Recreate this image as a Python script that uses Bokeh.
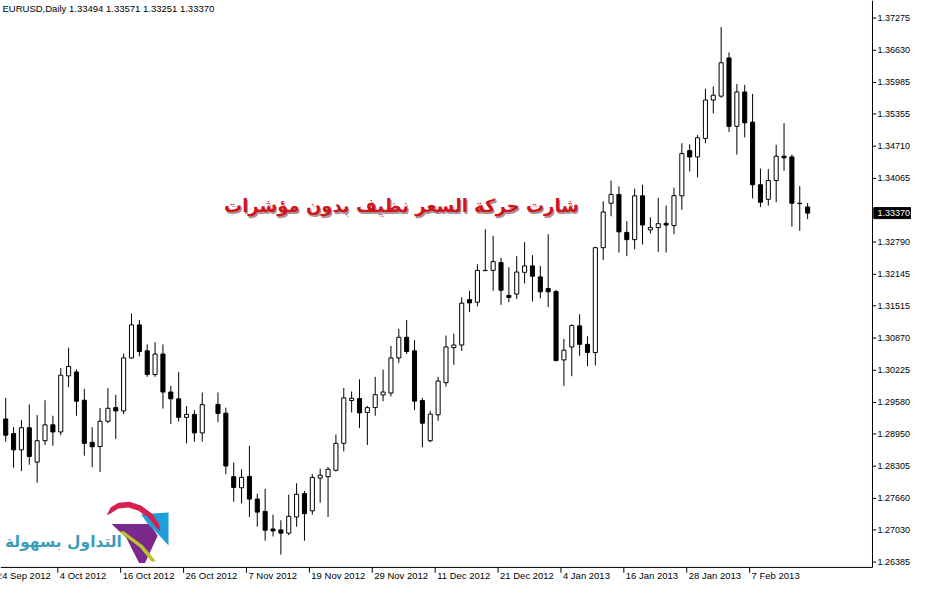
import numpy as np
from bokeh.plotting import figure
from bokeh.models import ColumnDataSource, Range1d, Label, PolyAnnotation
from bokeh.embed import file_html
from bokeh.resources import INLINE
from bokeh.core.properties import value

# ---------------- data ----------------
symbol_title = "EURUSD,Daily  1.33494 1.33571 1.33251 1.33370"
headline = "شارت حركة السعر نظيف بدون مؤشرات"
brand = "التداول بسهولة"

nan = float("nan")
opens = [1.29249, 1.28957, 1.28632, 1.29074, 1.28386, 1.28815, 1.29132, 1.28990, 1.30112, 1.30190,
         1.29625, 1.28782, 1.28698, 1.29204, 1.29477, 1.29411, 1.30471, 1.31133, 1.30613, 1.30139,
         1.30549, 1.29789, 1.29652, 1.29282, 1.29341, 1.28971, nan, 1.29541, 1.29366, 1.28094,
         1.27872, 1.28100, 1.27646, 1.27399, 1.27048, 1.27029, 1.26964, 1.27288, 1.27755, 1.27412,
         1.28067, 1.28094, 1.28223, 1.28762, 1.29619, 1.29658, 1.29380, 1.29477, 1.29730, 1.29769,
         1.30471, 1.30885, 1.30613, 1.29619, 1.28815, 1.29333, 1.29976, 1.30677, 1.30730, 1.31639,
         1.31587, 1.32220, 1.32224, 1.32380, 1.31723, 1.31749, 1.32185, 1.32313, 1.32093, 1.31860,
         1.31801, 1.30432, 1.30691, 1.31113, 1.30743, 1.30580, 1.32678, 1.33568, 1.33743, 1.32984,
         1.32839, 1.33716, 1.33034, 1.33081, 1.33165, 1.33120, 1.33716, 1.34620, 1.34495, 1.34865,
         1.35633, 1.35711, 1.36476, 1.35107, 1.35795, 1.35191, 1.33938, 1.33646, 1.34022, 1.34509,
         1.34495, 1.33568, 1.33494]
highs = [1.29672, 1.29088, 1.29230, 1.29541, 1.29327, 1.29625, 1.29314, 1.30268, 1.30677, 1.30243,
         1.29853, 1.29084, 1.29469, 1.29867, 1.29736, 1.30560, 1.31359, 1.31230, 1.30743, 1.30788,
         1.30743, 1.29912, 1.30190, 1.29508, 1.29425, 1.29781, nan, 1.29781, 1.29477, 1.28378,
         1.28242, 1.28710, 1.27755, 1.27853, 1.27334, 1.27223, 1.27736, 1.27964, 1.27808, 1.28145,
         1.28256, 1.28289, 1.28938, 1.29867, 1.29800, 1.30042, 1.29508, 1.30093, 1.30237, 1.30710,
         1.31055, 1.31230, 1.30827, 1.29672, 1.29411, 1.30093, 1.30919, 1.30958, 1.31684, 1.31815,
         1.32347, 1.33048, 1.32917, 1.32477, 1.32288, 1.32508, 1.32789, 1.32528, 1.32313, 1.32950,
         1.31834, 1.30852, 1.31145, 1.31347, 1.30905, 1.32697, 1.33607, 1.34022, 1.33905, 1.33210,
         1.33860, 1.33938, 1.33287, 1.33677, 1.33521, 1.33880, 1.34768, 1.34748, 1.34932, 1.35859,
         1.35906, 1.37094, 1.36587, 1.35956, 1.35937, 1.35756, 1.34261, 1.34250, 1.34737, 1.35171,
         1.34542, 1.33911, 1.33571]
lows = [1.28795, 1.28275, 1.28207, 1.28334, 1.27973, 1.28729, 1.28714, 1.28924, 1.29886, 1.29314,
        1.28515, 1.28285, 1.28188, 1.29165, 1.28850, 1.29347, 1.30457, 1.30502, 1.30093, 1.30093,
        1.29458, 1.29152, 1.29197, 1.28762, 1.28795, 1.28795, nan, 1.29185, 1.28145, 1.27593,
        1.27560, 1.27288, 1.27093, 1.26814, 1.26898, 1.26536, 1.26925, 1.27093, 1.26814, 1.27334,
        1.27574, 1.27288, 1.28197, 1.28601, 1.29380, 1.29068, 1.28729, 1.29314, 1.29606, 1.29703,
        1.30373, 1.30549, 1.29430, 1.28684, 1.28782, 1.29216, 1.29898, 1.30334, 1.30613, 1.31392,
        1.31503, 1.32204, 1.31815, 1.31534, 1.31587, 1.31651, 1.31963, 1.31600, 1.31665, 1.31489,
        1.30404, 1.29912, 1.30106, 1.30515, 1.30307, 1.30321, 1.32430, 1.33307, 1.32580, 1.32508,
        1.32645, 1.32742, 1.32964, 1.32594, 1.32580, 1.32950, 1.33437, 1.34203, 1.34086, 1.34768,
        1.35366, 1.35678, 1.34996, 1.34542, 1.34885, 1.33665, 1.33490, 1.33521, 1.33587, 1.34217,
        1.33100, 1.33015, 1.33251]
closes = [1.28924, 1.28632, 1.29074, 1.28499, 1.28815, 1.29132, 1.28990, 1.30126, 1.30301, 1.29606,
          1.28762, 1.28694, 1.29204, 1.29464, 1.29411, 1.30471, 1.31133, 1.30599, 1.30139, 1.30549,
          1.29789, 1.29652, 1.29282, 1.29341, 1.28971, 1.29536, nan, 1.29360, 1.28308, 1.27880,
          1.28080, 1.27646, 1.27385, 1.27023, 1.27009, 1.26964, 1.27301, 1.27743, 1.27354, 1.28080,
          1.28125, 1.28242, 1.28762, 1.29672, 1.29664, 1.29372, 1.29477, 1.29736, 1.29789, 1.30471,
          1.30885, 1.30599, 1.29606, 1.29165, 1.29347, 1.30009, 1.30691, 1.30730, 1.31567, 1.31573,
          1.32224, 1.32224, 1.32399, 1.31826, 1.31684, 1.32191, 1.32313, 1.32107, 1.31795, 1.31795,
          1.30418, 1.30626, 1.31119, 1.30743, 1.30580, 1.32678, 1.33393, 1.33743, 1.32995, 1.32839,
          1.33716, 1.33132, 1.33081, 1.33159, 1.33132, 1.33720, 1.34561, 1.34495, 1.34879, 1.35633,
          1.35730, 1.36379, 1.35107, 1.35795, 1.35177, 1.33938, 1.33587, 1.34022, 1.34509, 1.34476,
          1.33568, 1.33560, 1.33370]

date_labels = ["24 Sep 2012", "4 Oct 2012", "16 Oct 2012", "26 Oct 2012", "7 Nov 2012",
               "19 Nov 2012", "29 Nov 2012", "11 Dec 2012", "21 Dec 2012", "4 Jan 2013",
               "16 Jan 2013", "28 Jan 2013", "7 Feb 2013"]
date_bars = [-1, 7, 15, 23, 31, 39, 47, 55, 63, 71, 79, 87, 95]

price_ticks = [1.37275, 1.36630, 1.35985, 1.35355, 1.34710, 1.34065, 1.32790, 1.32145,
               1.31515, 1.30870, 1.30225, 1.29580, 1.28950, 1.28305, 1.27660, 1.27030, 1.26385]
last_price = 1.33370

# ---------------- layout helpers (reference-pixel -> data) ----------------
FONT = "Liberation Sans"
W, H = 911, 582
REF_W, REF_H = 927, 598
BAR_PX, BAR0_PX = 8.0, 5.3          # bar spacing / first bar centre in reference px
PRICE_TOP, PRICE_PER_PX = 1.376256, 0.0001948


def bx(rx):
    return (rx - BAR0_PX) / BAR_PX


def py(ry):
    return PRICE_TOP - PRICE_PER_PX * ry


X0, X1 = bx(0), bx(REF_W)
Y0, Y1 = py(REF_H), py(0)
AXIS_X = bx(887.3)
AXIS_Y = py(582.5)
TICK_SHIFT = -0.375

o = np.array(opens, dtype=float)
h = np.array(highs, dtype=float)
l = np.array(lows, dtype=float)
c = np.array(closes, dtype=float)
x = np.arange(len(o))
bull = c >= o
src = ColumnDataSource(dict(
    x=x, high=h, low=l,
    top=np.maximum(o, c), bottom=np.minimum(o, c),
    fill=np.where(bull, "white", "black").tolist(),
))

p = figure(width=W, height=H, output_backend="svg", toolbar_location=None,
           x_range=Range1d(X0, X1), y_range=Range1d(Y0, Y1),
           x_axis_location=None, y_axis_location=None,
           min_border_left=0, min_border_top=0, min_border_right=0, min_border_bottom=0)
p.outline_line_color = None
p.background_fill_color = "white"
p.border_fill_color = "white"
for g in p.grid:
    g.visible = False

# candles
p.segment(x0="x", y0="low", x1="x", y1="high", source=src, line_color="black", line_width=1)
p.vbar(x="x", width=0.52, top="top", bottom="bottom", source=src,
       fill_color="fill", line_color="black", line_width=1)

# axis frame lines (right and bottom)
p.segment(x0=[AXIS_X, X0], y0=[AXIS_Y, AXIS_Y], x1=[AXIS_X, AXIS_X], y1=[Y1, AXIS_Y],
          line_color="black", line_width=1)

# price scale
ptick = ColumnDataSource(dict(y=price_ticks, text=["%.5f" % v for v in price_ticks]))
p.segment(x0=AXIS_X, x1=bx(891), y0="y", y1="y", source=ptick, line_color="black", line_width=1)
p.text(x=bx(892.5), y="y", text="text", source=ptick, text_font=value(FONT),
       text_font_size="9px", text_color="black", text_align="left", text_baseline="middle")

# current price box
p.rect(x=[bx(907.5)], y=[last_price], width=37, height=11, width_units="screen",
       height_units="screen", fill_color="black", line_color="black")
p.text(x=[bx(892.5)], y=[last_price], text=["%.5f" % last_price], text_font=value(FONT),
       text_font_size="9px", text_color="white", text_align="left", text_baseline="middle")

# time scale
tx = [b + TICK_SHIFT for b in date_bars]
dtick = ColumnDataSource(dict(x=tx, lx=[t + 2.0 / BAR_PX for t in tx], text=date_labels))
p.segment(x0="x", x1="x", y0=AXIS_Y, y1=py(588), source=dtick, line_color="black", line_width=1)
p.text(x="lx", y=py(591), text="text", source=dtick, text_font=value(FONT),
       text_font_size="9.5px", text_color="black", text_align="left", text_baseline="middle")

# symbol line at top-left
p.add_layout(Label(x=X0, y=Y1, x_offset=2, y_offset=-2, text=symbol_title,
                   text_font=FONT, text_font_size="9.5px", text_color="black",
                   text_align="left", text_baseline="top"))

# red headline with soft shadow
HX, HY = bx(408), py(211)
p.add_layout(Label(x=HX, y=HY, x_offset=1.2, y_offset=-1.4, text=headline,
                   text_font="DejaVu Sans", text_font_style="bold", text_font_size="18px",
                   text_color="#4a0808", text_alpha=0.45, text_align="center", text_baseline="middle"))
p.add_layout(Label(x=HX, y=HY, text=headline,
                   text_font="DejaVu Sans", text_font_style="bold", text_font_size="18px",
                   text_color="#d0141c", text_align="center", text_baseline="middle"))


# logo
def poly(pts, color):
    p.add_layout(PolyAnnotation(xs=[bx(a) for a, b in pts], ys=[py(b) for a, b in pts],
                                xs_units="data", ys_units="data",
                                fill_color=color, fill_alpha=1.0, line_color=None))


poly([(113, 538), (152, 538), (160, 550), (147, 578), (141, 578), (128, 552)], "#7b2a8c")
poly([(143, 528), (171, 526), (171, 560), (160, 548), (150, 538)], "#1e9fdc")
poly([(121, 546), (125, 545), (145, 560), (158, 576), (154, 577), (142, 562)], "#b9c62a")
poly([(108, 529), (112, 521), (120, 516), (131, 515), (143, 519), (154, 527), (161, 537), (163, 546),
      (158, 541), (150, 531), (140, 524), (130, 521), (120, 522), (112, 527)], "#d6204f")

p.add_layout(Label(x=bx(64), y=py(556), text=brand,
                   text_font="DejaVu Sans", text_font_style="bold", text_font_size="15.5px",
                   text_color="#3d9cb8", text_align="center", text_baseline="middle"))

open("out.html", "w").write(file_html(p, INLINE))
